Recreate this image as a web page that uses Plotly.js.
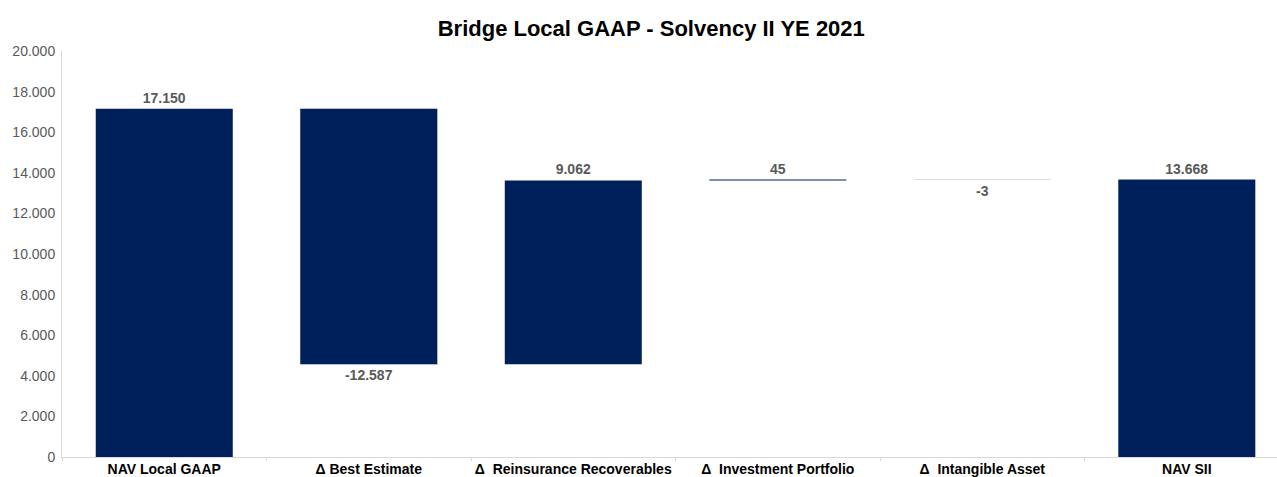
<!DOCTYPE html>
<html>
<head>
<meta charset="utf-8">
<script src="https://cdn.plot.ly/plotly-3.0.1.min.js"></script>
<style>html,body{margin:0;padding:0;background:#fff}#chart{width:1277px;height:477px}</style>
</head>
<body>
<div id="chart"></div>
<script>
const categories = ["NAV Local GAAP", "Δ Best Estimate", "Δ  Reinsurance Recoverables", "Δ  Investment Portfolio", "Δ  Intangible Asset", "NAV SII"];
const values = [17150, -12587, 9062, 45, -3, 13668];
const measures = ["absolute", "relative", "relative", "relative", "relative", "total"];
const yTickValues = [0, 2000, 4000, 6000, 8000, 10000, 12000, 14000, 16000, 18000, 20000];

function fmt(v) {
  const s = Math.abs(v).toString().replace(/\B(?=(\d{3})+(?!\d))/g, ".");
  return (v < 0 ? "-" : "") + s;
}

const navy = "#00205B";
const trace = {
  type: "waterfall",
  x: categories,
  y: values,
  measure: measures,
  text: values.map(fmt),
  textposition: "outside",
  textfont: {family: "Liberation Sans, Arial, sans-serif", size: 14, color: "#595959", weight: "bold"},
  cliponaxis: false,
  width: 0.67,
  increasing: {marker: {color: navy, line: {width: 0}}},
  decreasing: {marker: {color: navy, line: {color: "rgba(0,32,91,0.08)", width: 1}}},
  totals: {marker: {color: navy, line: {width: 0}}},
  connector: {visible: false},
  hoverinfo: "skip"
};

const layout = {
  width: 1277, height: 477,
  margin: {l: 62, r: 0, t: 51, b: 20},
  paper_bgcolor: "#fff", plot_bgcolor: "#fff",
  separators: ",.",
  showlegend: false,
  font: {family: "Liberation Sans, Arial, sans-serif"},
  title: {
    text: "<b>Bridge Local GAAP - Solvency II YE 2021</b>",
    font: {size: 22, color: "#000"},
    xref: "container", x: 0.51, xanchor: "center",
    yref: "container", y: 0.94, yanchor: "middle"
  },
  xaxis: {
    range: [-0.5, 5.441],
    showgrid: false, zeroline: false,
    showline: true, linecolor: "#d9d9d9", linewidth: 1,
    ticks: "outside", tickson: "boundaries", ticklen: 3, tickcolor: "#d9d9d9",
    tickangle: 0, ticklabelstandoff: -1,
    tickfont: {size: 14, color: "#000", weight: "bold"},
    automargin: false, fixedrange: true
  },
  yaxis: {
    range: [0, 20000],
    tickvals: yTickValues,
    tickformat: ",.0f",
    showgrid: false, zeroline: false,
    showline: true, linecolor: "#d9d9d9", linewidth: 1,
    ticks: "", ticklabelstandoff: 3,
    tickfont: {size: 14, color: "#595959"},
    automargin: false, fixedrange: true
  }
};

Plotly.newPlot("chart", [trace], layout, {displayModeBar: false, staticPlot: true});
</script>
</body>
</html>
